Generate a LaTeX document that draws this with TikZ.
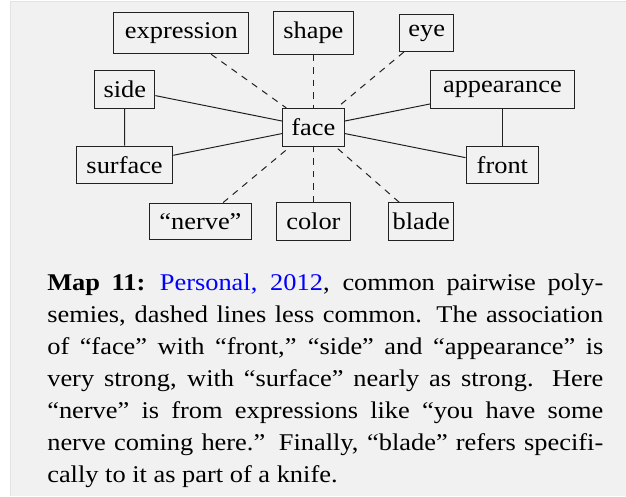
\documentclass[tikz,border=0pt]{standalone}
\usepackage{fontspec}
\setmainfont[FakeStretch=1.1]{Liberation Serif}
\usepackage{xcolor}
\definecolor{bgfill}{HTML}{F1F1F1}
\definecolor{bgline}{HTML}{E2E2E2}
\definecolor{linkblue}{HTML}{0000FF}
\definecolor{boxline}{HTML}{222222}
\begin{document}
\begin{tikzpicture}[x=1pt,y=-1pt,
  wbox/.style={draw=boxline, line width=1pt, inner xsep=4pt, inner ysep=10.3pt,
    font=\fontsize{24}{28}\selectfont, text=black},
  solidlink/.style={line width=1pt, draw=boxline},
  dashlink/.style={solidlink, dash pattern=on 6.5pt off 6pt}]
\useasboundingbox (0,0) rectangle (626,496);
\fill[white] (0,0) rectangle (626,496);
\fill[bgfill] (10,1) rectangle (626,496);
\draw[bgline, line width=1.2pt] (10.6,496) -- (10.6,1.6) -- (626,1.6);

\node[wbox, minimum width=135pt] (expression) at (181.4,33) {expression};
\node[wbox, minimum width=79.6pt] (shape) at (313.4,33) {shape};
\node[wbox, minimum width=54.1pt] (eye) at (426.7,33) {eye};
\node[wbox, minimum width=60.1pt] (side) at (124.8,89.5) {side};
\node[wbox, minimum width=143.2pt] (appearance) at (502.4,89.5) {appearance};
\node[wbox, minimum width=61.3pt] (face) at (313.4,127.3) {face};
\node[wbox, minimum width=96.5pt] (surface) at (124.6,165) {surface};
\node[wbox, minimum width=72.8pt] (front) at (502.4,165) {front};
\node[wbox, minimum width=102.8pt] (nerve) at (200.4,221.5) {“nerve”};
\node[wbox, minimum width=73.3pt] (color) at (313.4,221.5) {color};
\node[wbox, minimum width=64.5pt] (blade) at (421.2,221.5) {blade};

\draw[dashlink] (expression) -- (face);
\draw[dashlink] (shape) -- (face);
\draw[dashlink] (eye) -- (face);
\draw[dashlink] (nerve) -- (face);
\draw[dashlink] (color) -- (face);
\draw[dashlink] (blade) -- (face);
\draw[solidlink] (side) -- (face);
\draw[solidlink] (surface) -- (face);
\draw[solidlink] (appearance) -- (face);
\draw[solidlink] (front) -- (face);
\draw[solidlink] (side) -- (surface);
\draw[solidlink] (appearance) -- (front);

\node[anchor=base west, text width=556pt, align=justify, inner sep=0pt,
  font=\fontsize{24}{32}\selectfont, text=black] (caption) at (47.1,290)
  {\tolerance=10000\hyphenpenalty=10000\relax
   {\bfseries Map 11:}\hspace{0.6em}\textcolor{linkblue}{Personal, 2012}, common pairwise poly-\linebreak
   semies, dashed lines less common. The association\linebreak
   of “face” with “front,” “side” and “appearance” is\linebreak
   very strong, with “surface” nearly as strong. Here\linebreak
   “nerve” is from expressions like “you have some\linebreak
   nerve coming here.” Finally, “blade” refers specifi-\linebreak
   cally to it as part of a knife.};
\end{tikzpicture}
\end{document}
